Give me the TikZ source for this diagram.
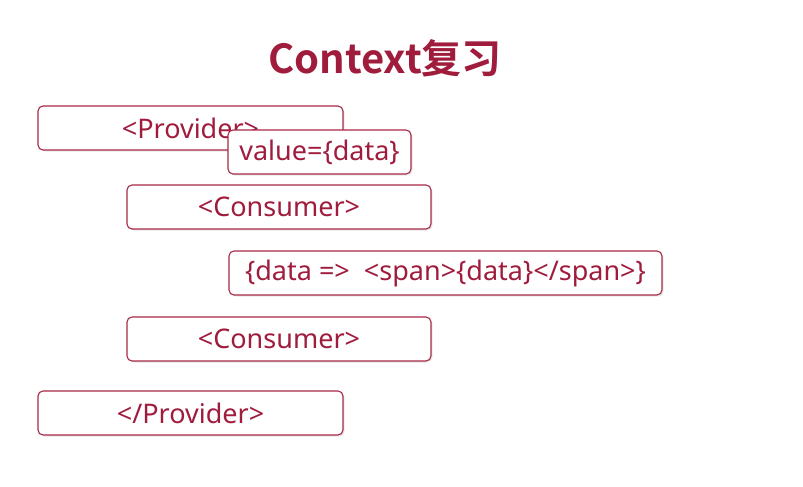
\documentclass[tikz,border=0pt]{standalone}
\usepackage{fontspec}
\setmainfont{Noto Sans}
\newfontfamily\cjkbold{Noto Sans CJK SC Bold}
\usetikzlibrary{shadows}
\definecolor{ctxred}{RGB}{160,28,60}
\definecolor{ctxborder}{RGB}{168,40,70}
\tikzset{
  tagbox/.style={draw=ctxborder, line width=1.1pt, rounded corners=5pt, fill=white,
    minimum height=44pt, inner sep=0pt, text=ctxred, font=\fontsize{27}{30}\selectfont,
    drop shadow={opacity=0.18, shadow xshift=1.5pt, shadow yshift=-1.5pt}},
}
\begin{document}
\begin{tikzpicture}[x=1pt,y=1pt]
\useasboundingbox (0,0) rectangle (803,-487);
\fill[white] (0,0) rectangle (803,-487);
\node[text=ctxred, font=\cjkbold\fontsize{40}{44}\selectfont] (title) at (385,-58) {Context复习};
\node[tagbox, minimum width=305pt] (prov) at (190.5,-128) {<Provider>};
\node[tagbox, minimum width=183pt] (val) at (319.5,-152) {value=\{data\}};
\node[tagbox, minimum width=304pt] (cons1) at (279,-207) {<Consumer>};
\node[tagbox, minimum width=433pt] (fn) at (445.5,-273) {\{data =>\ \ <span>\{data\}</span>\}};
\node[tagbox, minimum width=304pt] (cons2) at (279,-339) {<Consumer>};
\node[tagbox, minimum width=305pt] (eprov) at (190.5,-413) {</Provider>};
\end{tikzpicture}
\end{document}
